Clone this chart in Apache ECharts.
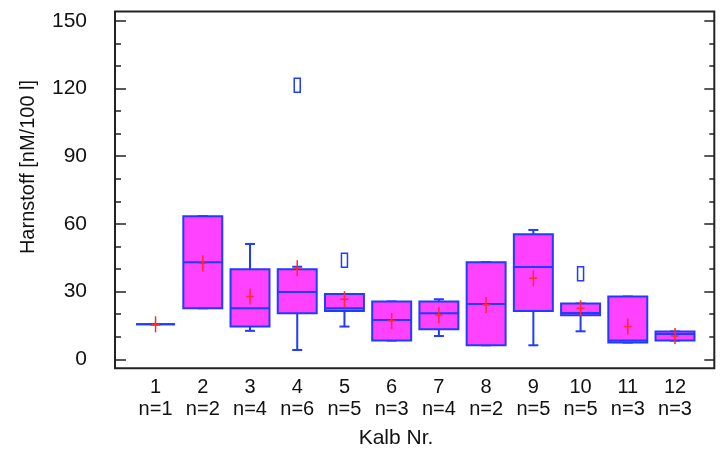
<!DOCTYPE html>
<html>
<head>
<meta charset="utf-8">
<script src="https://cdn.jsdelivr.net/npm/echarts@6/dist/echarts.min.js"></script>
<style>html,body{margin:0;padding:0;background:#fff}#c{width:720px;height:453px}</style>
</head>
<body>
<div id="c"></div>
<script>
// ---- data ----
const categories = ['1','2','3','4','5','6','7','8','9','10','11','12'];
const nLabels = ['n=1','n=2','n=4','n=6','n=5','n=3','n=4','n=2','n=5','n=5','n=3','n=3'];
const whiskerLow  = [15.5, 22.6, 12.6,  4.1, 14.5,  8.3, 10.3,  6.2,  6.2, 12.4,  7.4,  8.3];
const q1          = [15.5, 22.6, 14.5, 20.4, 21.4,  8.3, 13.3,  6.2, 21.4, 19.5,  7.4,  8.3];
const median      = [15.5, 43.0, 22.6, 29.8, 22.6, 17.4, 20.4, 24.5, 40.9, 20.5,  8.3, 11.2];
const q3          = [15.5, 63.4, 39.9, 39.9, 28.9, 25.6, 25.6, 43.0, 55.4, 24.7, 27.8, 12.3];
const whiskerHigh = [15.5, 63.4, 51.1, 41.0, 28.9, 25.6, 26.6, 43.0, 57.3, 24.7, 27.8, 12.3];
const means       = [15.5, 42.5, 27.8, 40.3, 26.6, 17.0, 19.6, 24.1, 35.9, 22.6, 14.5, 10.3];
const outlierKalb  = [4, 5, 10];
const outlierValue = [121.4, 43.9, 37.9];
const yTickLabels = [0, 30, 60, 90, 120, 150];
const yMinorTicks = [0, 10, 20, 30, 40, 50, 60, 70, 80, 90, 100, 110, 120, 130, 140, 150];

// ---- build ----
const FONT = '"Liberation Sans", Arial, sans-serif';
const BLUE = '#1f3cff';
const MAG = '#ff42ff';
const RED = '#ff2a2a';
const xPos = categories.map((c, i) => i + 1);
const boxData = categories.map((c, i) => [xPos[i], whiskerLow[i], q1[i], median[i], q3[i], whiskerHigh[i], means[i]]);
const outData = outlierKalb.map((k, i) => [k, outlierValue[i]]);

function renderBox(params, api) {
  const x = api.value(0);
  const pLow = api.coord([x, api.value(1)]);
  const pQ1 = api.coord([x, api.value(2)]);
  const pMed = api.coord([x, api.value(3)]);
  const pQ3 = api.coord([x, api.value(4)]);
  const pHigh = api.coord([x, api.value(5)]);
  const pMean = api.coord([x, api.value(6)]);
  const halfW = api.size([0.825, 0])[0] / 2;
  const cx = pMed[0];
  const capW = 5;
  const ls = {stroke: BLUE, lineWidth: 2};
  const children = [
    {type: 'line', shape: {x1: cx, y1: pQ3[1], x2: cx, y2: pHigh[1]}, style: ls},
    {type: 'line', shape: {x1: cx, y1: pQ1[1], x2: cx, y2: pLow[1]}, style: ls},
    {type: 'line', shape: {x1: cx - capW, y1: pHigh[1], x2: cx + capW, y2: pHigh[1]}, style: ls},
    {type: 'line', shape: {x1: cx - capW, y1: pLow[1], x2: cx + capW, y2: pLow[1]}, style: ls},
    {type: 'rect', shape: {x: cx - halfW, y: pQ3[1], width: 2 * halfW, height: pQ1[1] - pQ3[1]},
      style: {fill: MAG, stroke: BLUE, lineWidth: 2}},
    {type: 'line', shape: {x1: cx - halfW, y1: pMed[1], x2: cx + halfW, y2: pMed[1]}, style: ls},
    {type: 'line', shape: {x1: cx, y1: pMean[1] - 8, x2: cx, y2: pMean[1] + 8}, style: {stroke: RED, lineWidth: 1.5}},
    {type: 'line', shape: {x1: cx - 4, y1: pMean[1], x2: cx + 4, y2: pMean[1]}, style: {stroke: RED, lineWidth: 1.5}}
  ];
  return {type: 'group', children};
}

function renderOut(params, api) {
  const p = api.coord([api.value(0), api.value(1)]);
  return {type: 'rect', shape: {x: p[0] - 3, y: p[1] - 7, width: 6, height: 14},
    style: {fill: '#fff', stroke: BLUE, lineWidth: 1.5}};
}

const yMin = -4, yMax = 154.1;
function yAxisDef(pos, tickVals, len, labels) {
  return {
    type: 'value', position: pos, min: yMin, max: yMax,
    axisLine: {show: false}, splitLine: {show: false},
    axisTick: {show: true, inside: true, length: len, customValues: tickVals, lineStyle: {color: '#222', width: 1.5}},
    axisLabel: labels ? {show: true, customValues: yTickLabels, fontSize: 21, fontFamily: FONT, color: '#111',
      margin: 28, padding: [0, 0, 7, 0]} : {show: false}
  };
}

const chart = echarts.init(document.getElementById('c'), null, {renderer: 'canvas'});
chart.setOption({
  animation: false,
  backgroundColor: '#fff',
  grid: {left: 115, top: 11.5, right: 5.7, bottom: 84.7, show: true, borderColor: '#222', borderWidth: 2, backgroundColor: 'transparent'},
  xAxis: {
    type: 'value', min: 0.141, max: 12.832,
    axisLine: {show: false}, splitLine: {show: false}, axisTick: {show: false},
    axisLabel: {
      customValues: xPos, margin: 8, fontFamily: FONT, color: '#111',
      formatter: function (v) {
        const i = Math.round(v) - 1;
        return '{a|' + categories[i] + '}\n{b|' + nLabels[i] + '}';
      },
      rich: {
        a: {fontSize: 20, lineHeight: 22, fontFamily: FONT, color: '#111'},
        b: {fontSize: 20, lineHeight: 22, fontFamily: FONT, color: '#111'}
      }
    }
  },
  yAxis: [
    yAxisDef('left', yTickLabels, 11, true),
    yAxisDef('left', yMinorTicks, 6, false),
    yAxisDef('right', yTickLabels, 10, false),
    yAxisDef('right', yMinorTicks, 5, false)
  ],
  graphic: [
    {type: 'text', x: 28, y: 167, rotation: Math.PI / 2,
      style: {text: 'Harnstoff [nM/100 l]', fontSize: 20, fontFamily: FONT, fill: '#111', align: 'center', verticalAlign: 'middle'}},
    {type: 'text', x: 396, y: 438,
      style: {text: 'Kalb Nr.', fontSize: 21, fontFamily: FONT, fill: '#111', align: 'center', verticalAlign: 'middle'}}
  ],
  series: [
    {type: 'custom', renderItem: renderBox, data: boxData, encode: {x: 0, y: [1, 2, 3, 4, 5, 6]}, yAxisIndex: 0, clip: false},
    {type: 'custom', renderItem: renderOut, data: outData, encode: {x: 0, y: 1}, yAxisIndex: 0, clip: false}
  ]
});
</script>
</body>
</html>
